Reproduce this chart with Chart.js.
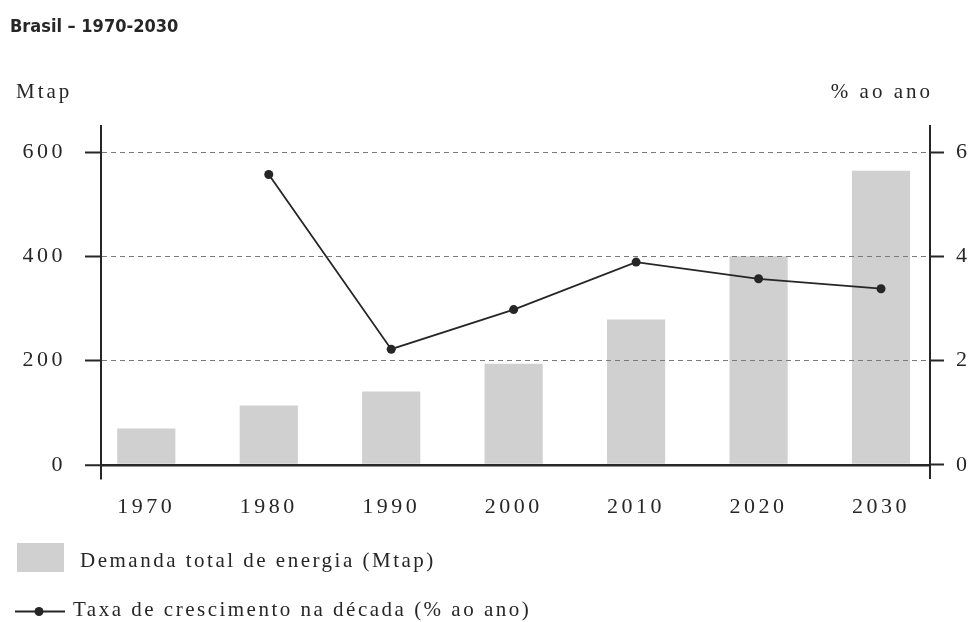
<!DOCTYPE html>
<html lang="pt-BR">
<head>
<meta charset="utf-8">
<title>Brasil – 1970-2030</title>
<script src="https://cdn.jsdelivr.net/npm/chart.js@4.4.1/dist/chart.umd.min.js"></script>
<style>
  html, body { margin: 0; padding: 0; background: #fff; }
  #wrap { width: 974px; height: 622px; position: relative; }
</style>
</head>
<body>
<div id="wrap"><canvas id="chart"></canvas></div>
<script>
// Energy demand in Brazil by decade, with the average yearly growth rate of each decade
const chartTitle = 'Brasil – 1970-2030';
const years = [1970, 1980, 1990, 2000, 2010, 2020, 2030];
const demandaMtap = [70, 114, 141, 194, 279, 400, 564];
const taxaCrescimento = [null, 5.57, 2.22, 2.98, 3.89, 3.57, 3.38];
const leftTicks = [0, 200, 400, 600];
const rightTicks = [0, 2, 4, 6];
const leftAxisTitle = 'Mtap';
const rightAxisTitle = '% ao ano';
const demandaLabel = 'Demanda total de energia (Mtap)';
const taxaLabel = 'Taxa de crescimento na década (% ao ano)';

const INK = '#262626';
const SERIF = "'Liberation Serif', 'Times New Roman', serif";
const NARROW = "'Liberation Sans Narrow', 'DejaVu Sans Condensed', sans-serif";

// Heading, unit captions and the two-row legend
const textDecor = {
  id: 'textDecor',
  beforeDraw(chart) {
    chart.ctx.letterSpacing = '3.5px';
  },
  afterDraw(chart) {
    const { ctx, chartArea: a } = chart;
    const bar = chart.data.datasets[0];
    const line = chart.data.datasets[1];
    ctx.save();
    ctx.fillStyle = INK;
    ctx.textBaseline = 'alphabetic';
    ctx.textAlign = 'left';

    ctx.letterSpacing = '0px';
    ctx.font = `bold 18px ${NARROW}`;
    ctx.fillText(chartTitle, 10, 32);

    ctx.letterSpacing = '3px';
    ctx.font = `21px ${SERIF}`;
    ctx.fillText(leftAxisTitle, 16, a.top - 28);
    ctx.textAlign = 'right';
    ctx.fillText(rightAxisTitle, a.right + 3, a.top - 28);

    ctx.textAlign = 'left';
    ctx.letterSpacing = '2.5px';
    ctx.fillStyle = bar.backgroundColor;
    ctx.fillRect(17, a.bottom + 65, 47, 29);
    ctx.fillStyle = INK;
    ctx.fillText(bar.label, 80, a.bottom + 89);

    const ly = a.bottom + 133.5;
    ctx.strokeStyle = line.borderColor;
    ctx.lineWidth = line.borderWidth;
    ctx.beginPath();
    ctx.moveTo(15, ly);
    ctx.lineTo(65, ly);
    ctx.stroke();
    ctx.beginPath();
    ctx.arc(39, ly, line.pointRadius, 0, Math.PI * 2);
    ctx.fillStyle = line.pointBackgroundColor;
    ctx.fill();
    ctx.fillStyle = INK;
    ctx.fillText(line.label, 73, a.bottom + 138);

    ctx.restore();
    ctx.letterSpacing = '0px';
  }
};

const isZero = c => c.tick && c.tick.value === 0;
const tickFont = { family: SERIF, size: 22 };

new Chart(document.getElementById('chart'), {
  type: 'bar',
  data: {
    labels: years,
    datasets: [
      {
        type: 'bar',
        label: demandaLabel,
        data: demandaMtap,
        yAxisID: 'y',
        backgroundColor: '#d0d0d0',
        borderWidth: 0,
        barPercentage: 0.475,
        categoryPercentage: 1,
        order: 1
      },
      {
        type: 'line',
        label: taxaLabel,
        data: taxaCrescimento,
        yAxisID: 'y1',
        borderColor: INK,
        borderWidth: 1.8,
        pointRadius: 4.5,
        pointBackgroundColor: INK,
        pointBorderWidth: 0,
        tension: 0,
        order: 0
      }
    ]
  },
  options: {
    responsive: true,
    maintainAspectRatio: false,
    animation: false,
    devicePixelRatio: 1,
    layout: { padding: { top: 126, bottom: 97, left: 0, right: 0 } },
    plugins: {
      legend: { display: false },
      title: { display: false },
      tooltip: { enabled: false }
    },
    scales: {
      x: {
        type: 'linear',
        offset: false,
        min: 1966.3,
        max: 2034,
        grid: { display: false, drawTicks: false },
        border: { display: false },
        afterBuildTicks: s => { s.ticks = years.map(v => ({ value: v })); },
        afterFit: s => { s.height = 47; },
        ticks: {
          color: INK, font: tickFont, padding: 16,
          maxRotation: 0, autoSkip: false,
          callback: v => String(v)
        }
      },
      y: {
        position: 'left',
        min: -25,
        max: 650,
        afterBuildTicks: s => { s.ticks = leftTicks.map(v => ({ value: v })); },
        afterFit: s => { s.width = 101; },
        grid: {
          z: 1,
          color: c => isZero(c) ? INK : '#7a7a7a',
          lineWidth: c => isZero(c) ? 2.5 : 1,
          drawTicks: true,
          tickColor: INK,
          tickWidth: 2,
          tickLength: 16
        },
        border: {
          z: 1,
          display: true, color: INK, width: 2,
          dash: c => isZero(c) ? [] : [5, 4]
        },
        ticks: { color: INK, font: tickFont, padding: 19 }
      },
      y1: {
        position: 'right',
        min: -0.25,
        max: 6.5,
        afterBuildTicks: s => { s.ticks = rightTicks.map(v => ({ value: v })); },
        afterFit: s => { s.width = 44; },
        grid: {
          drawOnChartArea: false,
          drawTicks: true,
          tickColor: INK,
          tickWidth: 2,
          tickLength: 14
        },
        border: { display: true, color: INK, width: 2 },
        ticks: { color: INK, font: tickFont, padding: 12 }
      }
    }
  },
  plugins: [textDecor]
});
</script>
</body>
</html>
